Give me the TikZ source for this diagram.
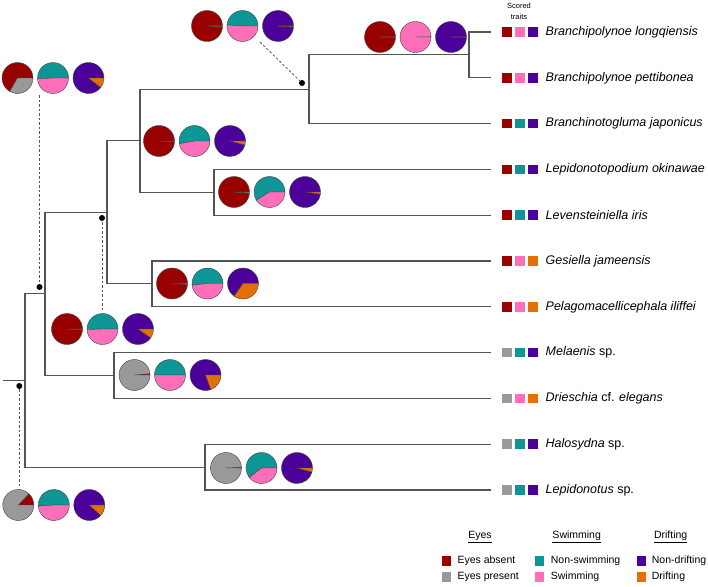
\documentclass[tikz,border=0pt]{standalone}
\usepackage{fontspec}
\setmainfont{Liberation Sans}
\usepackage{tikz}

\definecolor{eyeabs}{HTML}{990000}
\definecolor{eyepres}{HTML}{999999}
\definecolor{nonswim}{HTML}{0E9696}
\definecolor{swim}{HTML}{FF6EB9}
\definecolor{nondrift}{HTML}{4B0099}
\definecolor{drift}{HTML}{E36F05}
\definecolor{treeline}{HTML}{555555}
\definecolor{pieline}{HTML}{444444}

\def\pierad{15.5pt}
\newcommand{\pieslice}[4]{%
  \filldraw[fill=#4,draw=pieline,line width=0.4pt] (#1) -- ++(#2:\pierad)
    arc[start angle=#2,end angle=#3,radius=\pierad] -- cycle;}
\newcommand{\onepie}[4]{\pieslice{#1}{0}{#2}{#3}\pieslice{#1}{#2}{360}{#4}}
\newcommand{\traitpies}[5]{%
  \onepie{#1,#2}{#3}{eyeabs}{eyepres}%
  \onepie{#1+35.5,#2}{#4}{nonswim}{swim}%
  \onepie{#1+71,#2}{#5}{nondrift}{drift}}

\tikzset{
  branch/.style={draw=treeline,line width=1.1pt},
  ancline/.style={draw=treeline,line width=0.8pt,dash pattern=on 2.5pt off 2pt},
  ancdot/.style={circle,fill=black,inner sep=0pt,minimum size=6pt},
  traitbox/.style={rectangle,fill=#1,inner sep=0pt,minimum size=9.5pt},
  tiplabel/.style={font=\fontsize{12.5}{14}\selectfont\itshape,inner sep=0pt},
  legtext/.style={font=\fontsize{10.5}{12}\selectfont,inner sep=0pt,anchor=west}
}

\begin{document}
\begin{tikzpicture}[x=1pt,y=-1pt]
  \useasboundingbox[fill=white] (0,0) rectangle (708,586);

  \foreach \i/\yy/\ca/\cb/\cc/\nm in {
      1/32/eyeabs/swim/nondrift/{Branchipolynoe longqiensis},
      2/77.8/eyeabs/swim/nondrift/{Branchipolynoe pettibonea},
      3/123.6/eyeabs/nonswim/nondrift/{Branchinotogluma japonicus},
      4/169.4/eyeabs/nonswim/nondrift/{Lepidonotopodium okinawae},
      5/215.2/eyeabs/nonswim/nondrift/{Levensteiniella iris},
      6/261/eyeabs/swim/drift/{Gesiella jameensis},
      7/306.8/eyeabs/swim/drift/{Pelagomacellicephala iliffei},
      8/352.6/eyepres/nonswim/nondrift/{Melaenis\/ \upshape sp.},
      9/398.4/eyepres/swim/drift/{Drieschia\/ \upshape cf. \itshape elegans},
      10/444.2/eyepres/nonswim/nondrift/{Halosydna\/ \upshape sp.},
      11/490/eyepres/nonswim/nondrift/{Lepidonotus\/ \upshape sp.}}{
    \coordinate (t\i) at (491,\yy);
    \path node (e\i) at (507,\yy) [traitbox=\ca] {};
    \path node (s\i) at (520,\yy) [traitbox=\cb] {};
    \path node (d\i) at (533,\yy) [traitbox=\cc] {};
    \path node (lab\i) at (545.5,\yy) [anchor=west,tiplabel] {\nm};
  }

  \path node (scored) at (519,11.5) [align=center,inner sep=0pt,
        font=\fontsize{7.5}{10.5}\selectfont] {Scored\\traits};

  \coordinate (root) at (3,380.5);
  \coordinate (nA) at (25,380.5);
  \coordinate (nB) at (45,293.9);
  \coordinate (nC) at (107,212.3);
  \coordinate (nD) at (140,140.8);
  \coordinate (nE) at (309,89.25);
  \coordinate (nF) at (469,54.9);
  \coordinate (nLL) at (214,192.3);
  \coordinate (nGP) at (152,283.9);
  \coordinate (nMD) at (114,375.5);
  \coordinate (nHL) at (205,467.1);

  \draw[branch] (root) -- (nA);
  \draw[branch] (nA) |- (nB);
  \draw[branch] (nA) |- (nHL);
  \draw[branch] (nB) |- (nC);
  \draw[branch] (nB) |- (nMD);
  \draw[branch] (nC) |- (nD);
  \draw[branch] (nC) |- (nGP);
  \draw[branch] (nD) |- (nE);
  \draw[branch] (nD) |- (nLL);
  \draw[branch] (nE) |- (nF);
  \draw[branch] (nE) |- (t3);
  \draw[branch] (nF) |- (t1);
  \draw[branch] (nF) |- (t2);
  \draw[branch] (nLL) |- (t4);
  \draw[branch] (nLL) |- (t5);
  \draw[branch] (nGP) |- (t6);
  \draw[branch] (nGP) |- (t7);
  \draw[branch] (nMD) |- (t8);
  \draw[branch] (nMD) |- (t9);
  \draw[branch] (nHL) |- (t10);
  \draw[branch] (nHL) |- (t11);

  \path node (dotE) at (302,83) [ancdot] {};
  \path node (dotC) at (102,218) [ancdot] {};
  \path node (dotB) at (39.5,287) [ancdot] {};
  \path node (dotA) at (19.3,386) [ancdot] {};

  \coordinate (pieE) at (260,42);
  \coordinate (pieC) at (102,310);
  \coordinate (pieB) at (39.5,95);
  \coordinate (pieA) at (19.3,486);
  \draw[ancline] (pieE) -- (dotE);
  \draw[ancline] (pieC) -- (dotC);
  \draw[ancline] (pieB) -- (dotB);
  \draw[ancline] (pieA) -- (dotA);

  \traitpies{207}{26}{358}{176}{356}
  \traitpies{380}{37}{359}{1}{359}
  \traitpies{159}{141}{358}{190}{345}
  \traitpies{234}{192}{356}{212}{352}
  \traitpies{172}{283.5}{357}{186}{235}
  \traitpies{67}{329}{358}{182}{325}
  \traitpies{134.5}{375}{5}{180}{290}
  \traitpies{226}{468}{3}{218}{345}
  \traitpies{17.5}{78}{240}{183}{322}
  \traitpies{18.3}{505}{47}{184}{317}

  \path node (hEyes) at (480,537) [inner sep=0pt,
        font=\fontsize{10.5}{12}\selectfont] {\underline{Eyes}};
  \path node (hSwim) at (576.7,537) [inner sep=0pt,
        font=\fontsize{10.5}{12}\selectfont] {\underline{Swimming}};
  \path node (hDrift) at (670.7,537) [inner sep=0pt,
        font=\fontsize{10.5}{12}\selectfont] {\underline{Drifting}};

  \path node (kEa) at (446.7,561) [traitbox=eyeabs] {};
  \path node (kEp) at (446.7,577) [traitbox=eyepres] {};
  \path node (kSn) at (539.7,561) [traitbox=nonswim] {};
  \path node (kSs) at (539.7,577) [traitbox=swim] {};
  \path node (kDn) at (641.7,561) [traitbox=nondrift] {};
  \path node (kDd) at (641.7,577) [traitbox=drift] {};
  \path node (lEa) at (457.3,561) [legtext] {Eyes absent};
  \path node (lEp) at (457.3,577) [legtext] {Eyes present};
  \path node (lSn) at (550.7,561) [legtext] {Non-swimming};
  \path node (lSs) at (550.7,577) [legtext] {Swimming};
  \path node (lDn) at (651.7,561) [legtext] {Non-drifting};
  \path node (lDd) at (651.7,577) [legtext] {Drifting};
\end{tikzpicture}
\end{document}
